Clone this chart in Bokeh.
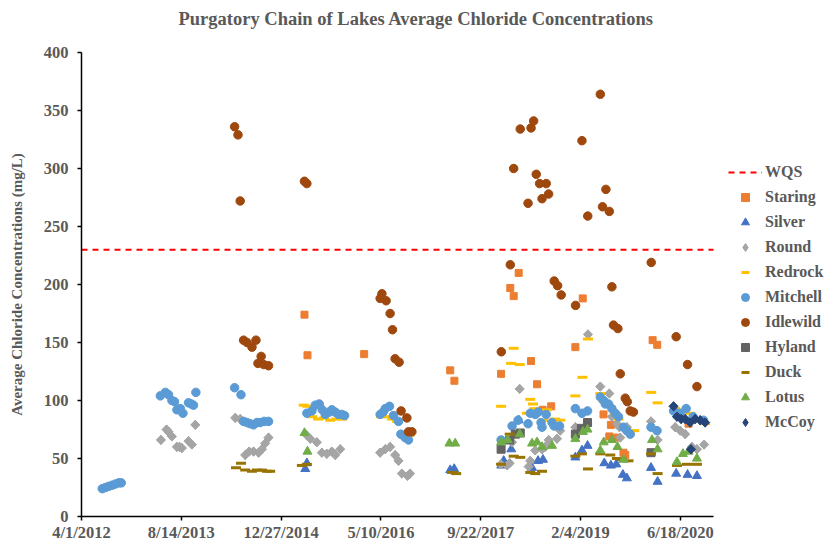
import math
import pandas as pd
from bokeh.plotting import figure
from bokeh.models import Range1d, FixedTicker, Legend, LegendItem, Title
from bokeh.embed import file_html
from bokeh.resources import INLINE

TITLE = "Purgatory Chain of Lakes Average Chloride Concentrations"
Y_LABEL = "Average Chloride Concentrations (mg/L)"
X_TICK_DATES = ["2012-04-01", "2013-08-14", "2014-12-27", "2016-05-10",
                "2017-09-22", "2019-02-04", "2020-06-18"]
X_TICK_LABELS = ["4/1/2012", "8/14/2013", "12/27/2014", "5/10/2016",
                 "9/22/2017", "2/4/2019", "6/18/2020"]
X_START, X_END = "2012-04-01", "2020-12-01"
Y_TICKS = [0, 50, 100, 150, 200, 250, 300, 350, 400]

WQS = 230
WQS_DATES = [X_START, X_END]

staring_dates = ["2015-04-23", "2015-05-08", "2016-02-16", "2017-04-22", "2017-05-13",
                 "2018-01-02", "2018-02-17", "2018-03-06", "2018-03-31", "2018-06-01",
                 "2018-07-01", "2018-07-29", "2018-09-10", "2019-01-09", "2019-02-15",
                 "2019-05-30", "2019-06-28", "2019-07-06", "2019-07-28", "2019-09-07",
                 "2019-09-16", "2020-01-31", "2020-02-23", "2020-07-29"]
staring_vals = [174, 139, 140, 126, 117, 123, 197, 190, 210, 134, 114, 92, 95, 146, 188,
                88, 69, 79, 68, 55, 53, 152, 148, 80]

silver_dates = ["2015-04-27", "2015-05-05", "2017-04-22", "2017-05-12", "2018-01-03",
                "2018-01-15", "2018-02-22", "2018-03-31", "2018-06-06", "2018-07-06",
                "2018-07-31", "2019-01-09", "2019-02-11", "2019-03-11", "2019-06-03",
                "2019-07-06", "2019-08-02", "2019-09-04", "2019-09-24", "2020-01-23",
                "2020-02-25", "2020-05-28", "2020-07-24", "2020-09-09"]
silver_vals = [41, 46, 40, 41, 44, 48, 58, 83, 42, 48, 49, 51, 57, 61, 46, 44, 45, 36, 33,
               42, 30, 37, 36, 35]

round_dates = ["2013-05-04", "2013-06-01", "2013-06-11", "2013-06-28", "2013-07-23",
               "2013-08-05", "2013-08-17", "2013-09-19", "2013-10-06", "2013-10-23",
               "2014-05-11", "2014-06-05", "2014-06-30", "2014-07-20", "2014-08-11",
               "2014-09-05", "2014-09-22", "2014-10-08", "2014-10-25",
               "2015-05-05", "2015-05-22", "2015-06-24", "2015-07-19", "2015-08-13",
               "2015-09-07", "2015-09-24", "2015-10-19",
               "2016-05-06", "2016-06-01", "2016-06-25", "2016-07-20", "2016-08-06",
               "2016-08-23", "2016-09-20", "2016-10-03",
               "2018-01-01", "2018-02-01", "2018-02-14", "2018-02-26", "2018-04-05",
               "2018-05-20", "2018-05-28", "2018-06-22", "2018-07-26", "2018-08-11",
               "2018-08-28", "2018-10-09", "2018-10-25",
               "2019-01-09", "2019-03-13", "2019-05-14", "2019-06-28", "2019-07-11",
               "2019-08-05", "2019-08-18", "2019-08-22", "2019-09-24",
               "2020-01-23", "2020-02-25", "2020-05-23", "2020-06-17", "2020-07-12",
               "2020-08-15", "2020-09-09", "2020-10-15"]
round_vals = [66, 75, 73, 69, 60, 60, 59, 65, 62, 79,
              85, 84, 53, 56, 56, 55, 58, 63, 68,
              70, 67, 64, 55, 54, 56, 53, 58,
              55, 58, 60, 53, 48, 37, 35, 37,
              45, 44, 46, 64, 110, 43, 48, 57, 58, 60, 66, 67, 74,
              77, 157, 112, 106, 86, 80, 77, 68, 77,
              82, 66, 77, 74, 71, 60, 58, 62]

redrock_dates = ["2015-04-19", "2015-05-07", "2015-06-01", "2015-07-01", "2015-07-31",
                 "2015-08-30", "2015-09-29", "2015-10-29",
                 "2016-05-11", "2016-06-05", "2016-07-05", "2016-07-30", "2016-09-08",
                 "2016-09-29",
                 "2018-01-02", "2018-02-21", "2018-03-06", "2018-04-05", "2018-05-12",
                 "2018-05-28", "2018-06-11", "2018-06-17", "2018-08-03", "2018-08-20",
                 "2018-09-30", "2018-10-25",
                 "2019-01-09", "2019-02-13", "2019-03-13", "2019-05-14", "2019-05-31",
                 "2019-06-23", "2019-07-28", "2019-08-13", "2019-10-11", "2019-10-31",
                 "2020-01-24", "2020-02-25", "2020-05-23", "2020-06-22", "2020-08-06",
                 "2020-09-25", "2020-10-20"]
redrock_vals = [96, 95, 86, 84, 85, 83, 84, 84,
                86, 86, 84, 82, 68, 70,
                95, 132, 145, 131, 89, 101, 97, 93, 83, 92, 84, 83,
                104, 120, 153, 106, 99, 95, 89, 84, 74, 74,
                107, 98, 93, 91, 89, 84, 80]

mitchell_dates = ["2012-07-14", "2012-07-30", "2012-08-16", "2012-09-02", "2012-09-18",
                  "2012-10-05", "2012-10-17",
                  "2013-05-01", "2013-05-26", "2013-06-11", "2013-06-28", "2013-07-11",
                  "2013-07-23", "2013-08-09", "2013-08-22", "2013-09-19", "2013-10-03",
                  "2013-10-14", "2013-10-26",
                  "2014-05-08", "2014-06-09", "2014-06-22", "2014-07-09", "2014-07-25",
                  "2014-08-11", "2014-08-28", "2014-09-13", "2014-10-03", "2014-10-25",
                  "2015-05-05", "2015-05-30", "2015-06-16", "2015-07-06", "2015-07-21",
                  "2015-08-05", "2015-08-25", "2015-09-07", "2015-09-24", "2015-10-10",
                  "2015-10-27", "2015-11-10",
                  "2016-05-06", "2016-05-21", "2016-06-01", "2016-06-22", "2016-07-12",
                  "2016-08-06", "2016-08-18", "2016-09-08", "2016-09-25",
                  "2018-01-02", "2018-02-26", "2018-03-28", "2018-05-17", "2018-05-28",
                  "2018-06-22", "2018-07-07", "2018-07-21", "2018-07-26", "2018-08-16",
                  "2018-09-14", "2018-09-25", "2018-10-22",
                  "2019-01-09", "2019-02-11", "2019-03-11", "2019-05-14", "2019-05-31",
                  "2019-06-08", "2019-06-24", "2019-07-11", "2019-07-28", "2019-08-13",
                  "2019-09-07", "2019-09-24", "2019-10-11",
                  "2020-01-23", "2020-02-22", "2020-05-15", "2020-06-17", "2020-07-17",
                  "2020-08-21", "2020-10-12"]
mitchell_vals = [24, 25, 26, 27, 28, 29, 29,
                 104, 107, 105, 100, 99, 92, 93, 89, 98, 97, 96, 107,
                 111, 105, 82, 81, 80, 79, 81, 81, 82, 82,
                 89, 91, 96, 97, 92, 88, 90, 92, 90, 88, 88, 87,
                 88, 90, 93, 95, 87, 82, 71, 68, 66,
                 66, 78, 83, 80, 89, 88, 90, 81, 77, 88, 81, 78, 78,
                 93, 89, 91, 103, 100, 97, 97, 93, 89, 86, 77, 74, 71,
                 77, 74, 91, 89, 93, 86, 83]

idlewild_dates = ["2014-05-08", "2014-05-25", "2014-06-05", "2014-06-22", "2014-07-09",
                  "2014-08-03", "2014-08-23", "2014-09-02", "2014-09-18", "2014-10-01",
                  "2014-10-25",
                  "2015-04-23", "2015-05-05",
                  "2016-05-06", "2016-05-15", "2016-06-05", "2016-06-25", "2016-07-07",
                  "2016-07-20", "2016-08-09", "2016-08-19", "2016-09-17", "2016-09-25",
                  "2016-10-12",
                  "2018-01-03", "2018-02-17", "2018-03-06", "2018-04-08", "2018-05-17",
                  "2018-06-01", "2018-06-14", "2018-06-27", "2018-07-14", "2018-07-26",
                  "2018-08-16", "2018-08-28", "2018-09-25", "2018-10-12", "2018-10-30",
                  "2019-01-10", "2019-02-11", "2019-03-12", "2019-05-14", "2019-05-25",
                  "2019-06-11", "2019-06-28", "2019-07-11", "2019-07-19", "2019-08-10",
                  "2019-08-22", "2019-09-16", "2019-09-26", "2019-10-11", "2019-10-27",
                  "2020-01-24", "2020-05-28", "2020-07-24", "2020-09-09"]
idlewild_vals = [336, 329, 272, 152, 150, 146, 152, 132, 138, 131, 130,
                 289, 287,
                 188, 192, 186, 175, 161, 136, 133, 91, 85, 73, 73,
                 142, 217, 300, 334, 270, 335, 341, 295, 287, 274, 287, 278, 203, 199, 191,
                 182, 324, 259, 364, 267, 282, 263, 198, 165, 162, 123, 102, 99, 91, 90,
                 219, 155, 131, 112]

hyland_dates = ["2018-01-02", "2018-02-14", "2018-03-14", "2018-04-08",
                "2019-01-09", "2019-02-08", "2019-03-11", "2020-01-23"]
hyland_vals = [58, 66, 71, 72, 71, 76, 81, 55]

duck_dates = ["2014-05-15", "2014-06-09", "2014-06-30", "2014-08-03", "2014-08-28",
              "2014-09-22", "2014-10-17", "2014-11-02",
              "2015-04-10", "2015-05-05", "2017-05-01", "2017-05-22",
              "2018-01-02", "2018-02-14", "2018-03-06", "2018-04-08", "2018-05-28",
              "2018-06-22", "2018-07-26",
              "2019-01-09", "2019-02-11", "2019-03-13", "2019-05-14", "2019-07-03",
              "2019-08-05", "2019-08-30", "2019-10-02",
              "2020-01-23", "2020-02-25", "2020-06-01", "2020-07-21", "2020-09-09"]
duck_vals = [42, 46, 40, 39, 40, 40, 39, 39,
             44, 45, 38, 37,
             45, 71, 52, 51, 38, 37, 39,
             52, 54, 41, 54, 53, 50, 49, 48,
             54, 37, 44, 45, 45]

lotus_dates = ["2015-04-23", "2015-05-08", "2017-04-18", "2017-05-17",
               "2018-01-02", "2018-02-04", "2018-04-05", "2018-06-06", "2018-07-01",
               "2018-07-26", "2018-09-14",
               "2019-01-09", "2019-02-16", "2019-03-11", "2019-05-14", "2019-05-31",
               "2019-07-11", "2019-08-08", "2019-09-07",
               "2020-01-28", "2020-02-25", "2020-06-01", "2020-07-01", "2020-07-29",
               "2020-09-09"]
lotus_vals = [72, 56, 63, 63,
              64, 66, 71, 63, 64, 60, 61,
              67, 73, 75, 57, 64, 66, 60, 49,
              66, 58, 47, 54, 56, 50]

mccoy_dates = ["2020-05-15", "2020-06-01", "2020-06-22", "2020-07-12", "2020-08-06",
               "2020-08-10", "2020-08-31", "2020-09-25", "2020-10-20"]
mccoy_vals = [95, 86, 84, 84, 81, 58, 84, 83, 81]

SERIES = [
    ("Staring", staring_dates, staring_vals, "square", 7, "#ED7D31"),
    ("Silver", silver_dates, silver_vals, "triangle", 9, "#4472C4"),
    ("Round", round_dates, round_vals, "rsquare", 6.5, "#A5A5A5"),
    ("Redrock", redrock_dates, redrock_vals, "dash", 10, "#FFC000"),
    ("Mitchell", mitchell_dates, mitchell_vals, "circle", 8.5, "#5B9BD5"),
    ("Idlewild", idlewild_dates, idlewild_vals, "circle", 8.5, "#9E480E"),
    ("Hyland", hyland_dates, hyland_vals, "square", 8, "#636363"),
    ("Duck", duck_dates, duck_vals, "dash", 10, "#997300"),
    ("Lotus", lotus_dates, lotus_vals, "triangle", 9, "#70AD47"),
    ("McCoy", mccoy_dates, mccoy_vals, "rsquare", 6.5, "#264478"),
]


def ms(dates):
    epoch = pd.Timestamp("1970-01-01")
    return [(pd.Timestamp(d) - epoch) / pd.Timedelta(milliseconds=1) for d in dates]


FONT = "Liberation Serif"
TXT = "#595959"

# layout (pixels): plot area 81..713 wide, legend to its right inside the frame
FRAME_LEFT, AXIS_RIGHT, FIG_W, FIG_H = 81, 713, 831, 546
tick_ms = ms(X_TICK_DATES)
x0, x1 = ms([X_START, X_END])
x_view_end = x0 + (x1 - x0) * (FIG_W - FRAME_LEFT) / (AXIS_RIGHT - FRAME_LEFT)

p = figure(width=FIG_W, height=FIG_H, x_axis_type="datetime",
           output_backend="svg", toolbar_location=None,
           min_border_left=FRAME_LEFT, min_border_top=52, min_border_bottom=30,
           min_border_right=0,
           x_range=Range1d(x0, x_view_end), y_range=Range1d(Y_TICKS[0], Y_TICKS[-1]))

p.title.text = TITLE
p.title.align = "left"
p.title.offset = 97
p.title.text_font = FONT
p.title.text_font_size = "18.5px"
p.title.text_font_style = "bold"
p.title.text_color = TXT
p.add_layout(Title(text=" ", text_font_size="15px", standoff=0), "above")

p.grid.visible = False
p.outline_line_color = None
p.background_fill_color = "white"
p.border_fill_color = "white"

for ax in (p.xaxis[0], p.yaxis[0]):
    ax.axis_line_color = "black"
    ax.axis_line_width = 1.5
    ax.major_tick_line_color = "black"
    ax.major_tick_line_width = 1.5
    ax.major_tick_out = 4
    ax.major_tick_in = 0
    ax.minor_tick_line_color = None
    ax.major_label_text_font = FONT
    ax.major_label_text_font_size = "16.5px"
    ax.major_label_text_font_style = "bold"
    ax.major_label_text_color = TXT

p.xaxis.bounds = (x0, x1)
p.xaxis.ticker = FixedTicker(ticks=tick_ms)
p.xaxis.major_label_overrides = {t: lab for t, lab in zip(tick_ms, X_TICK_LABELS)}
p.xaxis.major_label_standoff = 2

p.yaxis.ticker = FixedTicker(ticks=Y_TICKS)
p.yaxis.major_label_standoff = 9
p.yaxis.axis_label = Y_LABEL
p.yaxis.axis_label_text_font = FONT
p.yaxis.axis_label_text_font_size = "15px"
p.yaxis.axis_label_text_font_style = "bold"
p.yaxis.axis_label_text_color = TXT
p.yaxis.axis_label_standoff = 16

items = []
wqs_r = p.line(ms(WQS_DATES), [WQS, WQS], line_color="#FF0000", line_width=2,
               line_dash="6 5")
items.append(LegendItem(label="WQS", renderers=[wqs_r]))

for name, dates, vals, marker, size, color in SERIES:
    xs = ms(dates)
    if marker == "dash":
        r = p.scatter(xs, vals, marker="dash", size=size, line_color=color,
                      line_width=3)
        leg = r
    elif marker == "rsquare":
        # diamond glyph (also used for the legend swatch), widened by a rotated square
        leg = p.scatter(xs, vals, marker="diamond", size=9, fill_color=color,
                        line_color=color)
        p.scatter(xs, vals, marker="square", size=size, angle=math.pi / 4,
                  fill_color=color, line_color=color)
    else:
        r = p.scatter(xs, vals, marker=marker, size=size, fill_color=color,
                      line_color=color)
        leg = r
    items.append(LegendItem(label=name, renderers=[leg]))

legend = Legend(items=items, location=(733 - 5 - FRAME_LEFT, 84), ncols=1,
                glyph_width=34, glyph_height=20,
                spacing=5, padding=5, margin=0, label_standoff=3,
                label_text_font=FONT, label_text_font_size="16px",
                label_text_font_style="bold", label_text_color=TXT,
                border_line_color=None, background_fill_alpha=0)
p.add_layout(legend)

open("out.html", "w").write(file_html(p, INLINE))
